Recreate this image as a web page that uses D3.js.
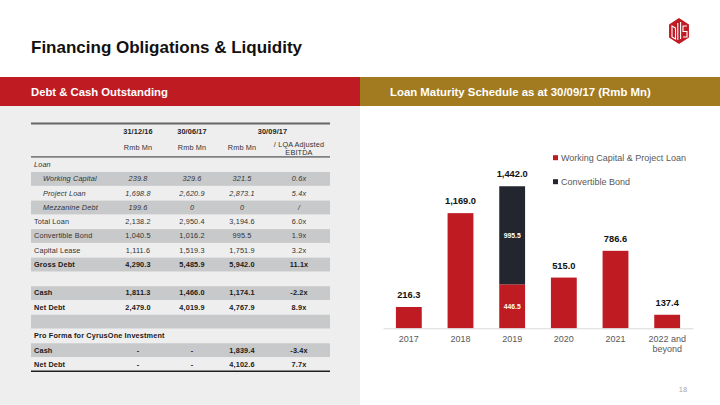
<!DOCTYPE html>
<html>
<head>
<meta charset="utf-8">
<script src="https://cdn.jsdelivr.net/npm/d3@7"></script>
<style>
  html, body { margin: 0; padding: 0; background: #ffffff; }
  svg { display: block; font-family: "Liberation Sans", Arial, sans-serif; }
</style>
</head>
<body>
<svg id="chart" width="720" height="405"></svg>
<script>
// ---------------- DATA ----------------
const years = ["2017", "2018", "2019", "2020", "2021", "2022 and beyond"];
const wcProjectLoan = [216.3, 1169.0, 446.5, 515.0, 786.6, 137.4];
const convertibleBond = [0, 0, 995.5, 0, 0, 0];
const seriesNames = ["Working Capital & Project Loan", "Convertible Bond"];

const tableHeaderDates = ["31/12/16", "30/06/17", "30/09/17"];
const tableHeaderUnits = ["Rmb Mn", "Rmb Mn", "Rmb Mn", "/ LQA Adjusted|EBITDA"];
const rowLabels = ["Loan", "Working Capital", "Project Loan", "Mezzanine Debt", "Total Loan",
  "Convertible Bond", "Capital Lease", "Gross Debt", "", "Cash", "Net Debt", "",
  "Pro Forma for CyrusOne Investment", "Cash", "Net Debt"];
const col311216 = ["", "239.8", "1,698.8", "199.6", "2,138.2", "1,040.5", "1,111.6", "4,290.3", "", "1,811.3", "2,479.0", "", "", "-", "-"];
const col300617 = ["", "329.6", "2,620.9", "0", "2,950.4", "1,016.2", "1,519.3", "5,485.9", "", "1,466.0", "4,019.9", "", "", "-", "-"];
const col300917 = ["", "321.5", "2,873.1", "0", "3,194.6", "995.5", "1,751.9", "5,942.0", "", "1,174.1", "4,767.9", "", "", "1,839.4", "4,102.6"];
const colLQA = ["", "0.6x", "5.4x", "/", "6.0x", "1.9x", "3.2x", "11.1x", "", "-2.2x", "8.9x", "", "", "-3.4x", "7.7x"];

// ---------------- STYLE HINTS (not data) ----------------
const shadedRows = [1, 3, 5, 7, 9, 11, 13];
const italicRows = [0, 1, 2, 3];
const indentRows = [1, 2, 3];
const boldRows = [7, 9, 10, 12, 13, 14];

const RED = "#be1b23", GOLD = "#a27b20", DARK = "#23252f";
const svg = d3.select("#chart");

// ---------------- HEADER ----------------
svg.append("text").attr("x", 31).attr("y", 53)
  .attr("font-size", 17).attr("font-weight", "bold").attr("fill", "#111")
  .text("Financing Obligations & Liquidity");

// logo
const logo = svg.append("g").attr("transform", "translate(679,31)");
const hex = d3.range(6).map(i => {
  const a = (-90 + 60 * i) * Math.PI / 180;
  return [11.5 * Math.cos(a), 13 * Math.sin(a)];
});
logo.append("path").attr("d", "M" + hex.join("L") + "Z").attr("fill", RED);
const lg = logo.append("g").attr("stroke", "#fff").attr("stroke-width", 1.1).attr("fill", "none");
lg.append("path").attr("d", "M-7,-5 L-7,6 L-3.5,8 L-3.5,-3 Z");
lg.append("path").attr("d", "M-1.2,-8 L-1.2,9 M1.6,-9 L1.6,8");
lg.append("path").attr("d", "M8,-5 L4,-5 L4,0.5 L8,0.5 L8,6 L4,6");

// section bars
svg.append("rect").attr("x", 0).attr("y", 77).attr("width", 360).attr("height", 29).attr("fill", RED);
svg.append("rect").attr("x", 360).attr("y", 77).attr("width", 360).attr("height", 29).attr("fill", GOLD);
svg.append("text").attr("x", 31).attr("y", 95.6).attr("font-size", 11.3).attr("font-weight", "bold")
  .attr("fill", "#fff").text("Debt & Cash Outstanding");
svg.append("text").attr("x", 390).attr("y", 95.6).attr("font-size", 11.4).attr("font-weight", "bold")
  .attr("fill", "#fff").text("Loan Maturity Schedule as at 30/09/17 (Rmb Mn)");

// ---------------- TABLE ----------------
svg.append("rect").attr("x", 0).attr("y", 106).attr("width", 360).attr("height", 299).attr("fill", "#eeeeee");

const tX0 = 31, tX1 = 330;
const colX = [138, 192, 242, 299];
const rowScale = d3.scaleBand().domain(d3.range(rowLabels.length)).range([157.3, 371.3]);

const tg = svg.append("g").attr("font-size", 7.3).attr("letter-spacing", 0.15);

// header
tg.append("line").attr("x1", tX0).attr("x2", tX1).attr("y1", 123.5).attr("y2", 123.5)
  .attr("stroke", "#666").attr("stroke-width", 1.8);
tableHeaderDates.forEach((d, i) => {
  const x = i < 2 ? colX[i] : (colX[2] + colX[3]) / 2 + 2;
  tg.append("text").attr("x", x).attr("y", 133.5).attr("text-anchor", "middle")
    .attr("font-weight", "bold").attr("fill", "#222").text(d);
});
tableHeaderUnits.forEach((d, i) => {
  const parts = d.split("|");
  const startY = parts.length > 1 ? 146.5 : 149.8;
  parts.forEach((p, j) => {
    tg.append("text").attr("x", colX[i]).attr("y", startY + j * 8.2).attr("text-anchor", "middle")
      .attr("fill", "#333").text(p);
  });
});
tg.append("line").attr("x1", tX0).attr("x2", tX1).attr("y1", 156.8).attr("y2", 156.8)
  .attr("stroke", "#808080").attr("stroke-width", 1.8);

// shaded bands
tg.selectAll("rect.band").data(shadedRows).join("rect").attr("class", "band")
  .attr("x", tX0).attr("width", tX1 - tX0)
  .attr("y", d => rowScale(d) + 0.5).attr("height", rowScale.bandwidth() - 0.5)
  .attr("fill", "#c8c9cb");

const cols = [col311216, col300617, col300917, colLQA];
rowLabels.forEach((lab, i) => {
  const yC = rowScale(i) + rowScale.bandwidth() / 2 + 2.6;
  const italic = italicRows.includes(i);
  const bold = boldRows.includes(i);
  const g = tg.append("g")
    .attr("font-style", italic ? "italic" : "normal")
    .attr("font-weight", bold ? "bold" : "normal")
    .attr("fill", bold ? "#1a1a1a" : "#333");
  if (lab) g.append("text").attr("x", indentRows.includes(i) ? 43 : 34).attr("y", yC).text(lab);
  cols.forEach((c, j) => {
    if (c[i]) g.append("text").attr("x", colX[j]).attr("y", yC).attr("text-anchor", "middle").text(c[i]);
  });
});
tg.append("line").attr("x1", tX0).attr("x2", tX1).attr("y1", 371.3).attr("y2", 371.3)
  .attr("stroke", "#1f1f1f").attr("stroke-width", 1.4);

// ---------------- BAR CHART ----------------
const x = d3.scaleBand().domain(years).range([383, 693]).paddingInner(0.5).paddingOuter(0.25);
const y = d3.scaleLinear().domain([0, 1600]).range([328.3, 328.3 - 0.0985 * 1600]);

const stackData = years.map((yr, i) => ({ year: yr, wc: wcProjectLoan[i], cb: convertibleBond[i] }));
const stack = d3.stack().keys(["wc", "cb"])(stackData);
const colors = { wc: RED, cb: DARK };

const cg = svg.append("g");
stack.forEach(layer => {
  cg.append("g").attr("fill", colors[layer.key])
    .selectAll("rect").data(layer.filter(d => d[1] - d[0] > 0)).join("rect")
    .attr("x", d => x(d.data.year)).attr("width", x.bandwidth())
    .attr("y", d => y(d[1])).attr("height", d => y(d[0]) - y(d[1]));
});

// axis
const xAxis = d3.axisBottom(x).tickSize(0).tickPadding(0);
const ax = cg.append("g").attr("transform", "translate(0,328.3)").call(xAxis);
ax.select(".domain").attr("stroke", "#d9d9d9").attr("stroke-width", 1);
ax.selectAll(".tick text").remove();
ax.selectAll(".tick").each(function (d) {
  const words = d === "2022 and beyond" ? ["2022 and", "beyond"] : [d];
  const t = d3.select(this);
  words.forEach((w, k) => {
    t.append("text").attr("y", 13.8 + k * 9.6).attr("text-anchor", "middle")
      .attr("font-size", 9).attr("fill", "#595959").attr("font-family", "Liberation Sans, Arial, sans-serif")
      .text(w);
  });
});

// total labels
const fmt = d3.format(",.1f");
cg.selectAll("text.total").data(stackData).join("text").attr("class", "total")
  .attr("x", d => x(d.year) + x.bandwidth() / 2)
  .attr("y", d => y(d.wc + d.cb) - 9)
  .attr("text-anchor", "middle").attr("font-size", 9.3).attr("font-weight", "bold").attr("fill", "#111")
  .text(d => fmt(d.wc + d.cb));

// inner labels for stacked bar
stackData.filter(d => d.cb > 0).forEach(d => {
  [[0, d.wc], [d.wc, d.wc + d.cb]].forEach(([a, b]) => {
    cg.append("text").attr("x", x(d.year) + x.bandwidth() / 2)
      .attr("y", (y(a) + y(b)) / 2 + 2.5)
      .attr("text-anchor", "middle").attr("font-size", 6.8).attr("font-weight", "bold").attr("fill", "#fff")
      .text(fmt(b - a));
  });
});

// legend
const leg = svg.append("g");
seriesNames.forEach((n, i) => {
  const ly = 157.7 + i * 24;
  leg.append("rect").attr("x", 553).attr("y", ly - 2.5).attr("width", 5).attr("height", 5)
    .attr("fill", i === 0 ? RED : DARK);
  leg.append("text").attr("x", 561).attr("y", ly + 3.2).attr("font-size", 9).attr("fill", "#595959").text(n);
});

// page number
svg.append("text").attr("x", 683).attr("y", 392).attr("text-anchor", "middle")
  .attr("font-size", 7.5).attr("fill", "#a6a6a6").text("18");
</script>
</body>
</html>
